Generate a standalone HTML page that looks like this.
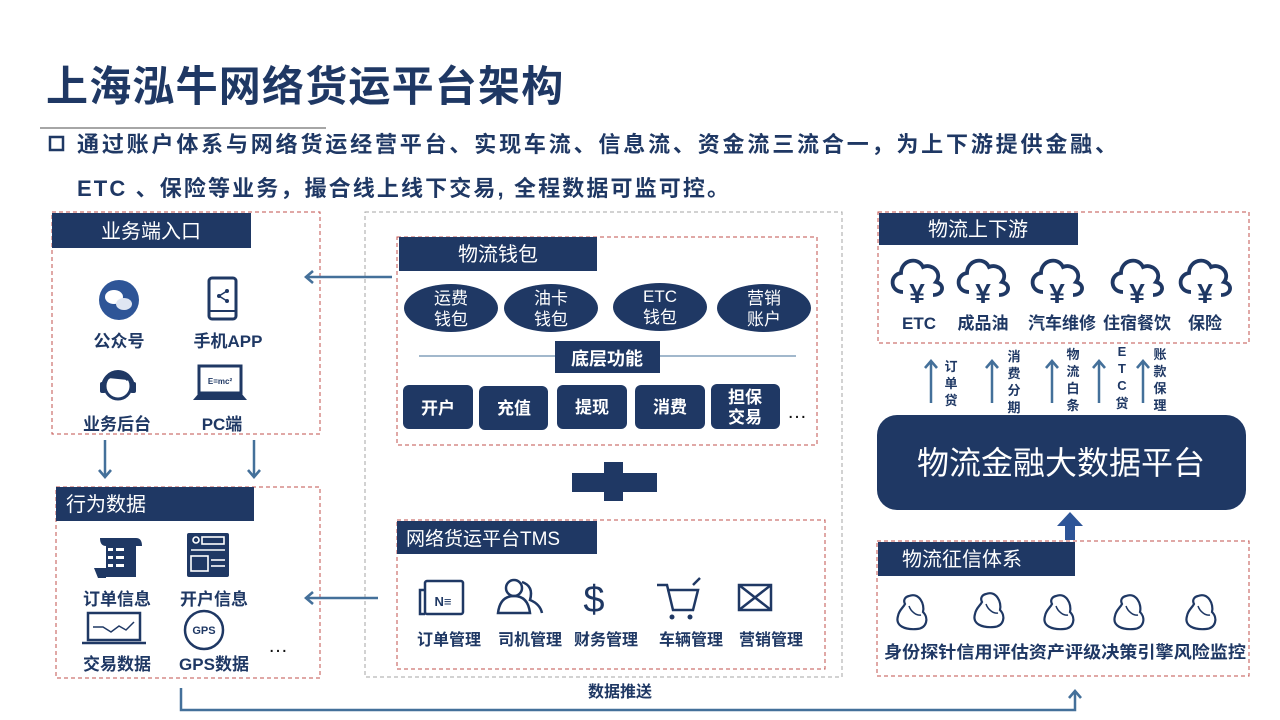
<!DOCTYPE html>
<html><head><meta charset="utf-8"><style>
html,body{margin:0;padding:0;background:#fff;}
svg{display:block;}
text{font-family:"Liberation Sans","Noto Sans CJK SC",sans-serif;}
</style></head><body>
<svg width="1280" height="720" viewBox="0 0 1280 720" xmlns="http://www.w3.org/2000/svg">
<defs>
<marker id="ah" markerWidth="14" markerHeight="14" refX="7" refY="7" orient="auto" markerUnits="userSpaceOnUse">
<path d="M1,1 L8,7 L1,13" fill="none" stroke="#44709a" stroke-width="2.6"/>
</marker>
<g id="cloud"><path d="M-14,10 C-27,10 -28,-7 -16,-9 C-16,-22 1,-26 6,-15 C15,-19 26,-9 19,0 C28,2 27,13 16,13" fill="none" stroke="#1f3864" stroke-width="3.8"/>
<text x="0" y="21" font-size="28" text-anchor="middle" fill="#1f3864" font-weight="bold">¥</text></g>
<g id="blob"><path d="M-4,-16 C6,-20 12,-8 10,0 C16,6 14,16 4,17 C-8,18 -18,14 -15,4 C-14,-2 -10,-4 -8,-8 C-10,-12 -8,-15 -4,-16 Z" fill="none" stroke="#1f3864" stroke-width="2.2"/>
<path d="M-4,-6 C-2,0 4,4 8,3" fill="none" stroke="#1f3864" stroke-width="1.5"/></g>
</defs>

<text x="46" y="101" font-size="42" font-weight="bold" fill="#1f3864" letter-spacing="1.2">上海泓牛网络货运平台架构</text>
<rect x="40" y="127" width="286" height="2" fill="#a6a6a6"/>
<rect x="50" y="137" width="13" height="13" fill="none" stroke="#1f3864" stroke-width="2.5"/>
<text x="77" y="152" font-size="22" font-weight="bold" fill="#1f3864" textLength="1040" lengthAdjust="spacing">通过账户体系与网络货运经营平台、实现车流、信息流、资金流三流合一，为上下游提供金融、</text>
<text x="77" y="196" font-size="22" font-weight="bold" fill="#1f3864" textLength="652" lengthAdjust="spacing">ETC 、保险等业务，撮合线上线下交易, 全程数据可监可控。</text>

<rect x="52" y="212" width="268" height="222" fill="none" stroke="#c0504d" stroke-width="1" stroke-dasharray="4,3"/>
<rect x="52" y="213" width="199" height="35" fill="#1f3864"/>
<text x="151" y="238" font-size="20" fill="#fff" text-anchor="middle">业务端入口</text>
<circle cx="119" cy="300" r="20" fill="#2e5597"/>
<ellipse cx="114" cy="297" rx="9" ry="7" fill="#fff"/>
<ellipse cx="124" cy="304" rx="8" ry="6" fill="#dfe6f2"/>
<text x="119" y="347" font-size="17" font-weight="bold" fill="#1f3864" text-anchor="middle">公众号</text>
<rect x="209" y="278" width="27" height="41" rx="3" fill="none" stroke="#1f3864" stroke-width="3"/>
<line x1="209" y1="311" x2="236" y2="311" stroke="#1f3864" stroke-width="2"/>
<circle cx="227" cy="291" r="2" fill="#1f3864"/><circle cx="219" cy="296" r="2" fill="#1f3864"/><circle cx="227" cy="301" r="2" fill="#1f3864"/>
<path d="M227,291 L219,296 L227,301" stroke="#1f3864" fill="none" stroke-width="1.5"/>
<text x="228" y="347" font-size="17" font-weight="bold" fill="#1f3864" text-anchor="middle">手机APP</text>
<circle cx="118" cy="386" r="13" fill="none" stroke="#1f3864" stroke-width="3"/>
<path d="M103,388 A15,16 0 0 1 133,388" fill="none" stroke="#1f3864" stroke-width="4"/>
<rect x="100" y="382" width="6" height="11" rx="2" fill="#1f3864"/><rect x="130" y="382" width="6" height="11" rx="2" fill="#1f3864"/>
<path d="M108,378 Q118,370 128,380" fill="#1f3864" stroke="#1f3864" stroke-width="3"/>
<text x="117" y="430" font-size="17" font-weight="bold" fill="#1f3864" text-anchor="middle">业务后台</text>
<rect x="199" y="366" width="42" height="27" fill="none" stroke="#1f3864" stroke-width="3"/>
<text x="220" y="384" font-size="8" font-weight="bold" fill="#1f3864" text-anchor="middle">E=mc²</text>
<path d="M193,400 L247,400 L241,393 L199,393 Z" fill="#1f3864"/>
<text x="222" y="430" font-size="17" font-weight="bold" fill="#1f3864" text-anchor="middle">PC端</text>

<line x1="105" y1="440" x2="105" y2="476" stroke="#44709a" stroke-width="2.5" marker-end="url(#ah)"/>
<line x1="254" y1="440" x2="254" y2="476" stroke="#44709a" stroke-width="2.5" marker-end="url(#ah)"/>

<rect x="56" y="487" width="264" height="191" fill="none" stroke="#c0504d" stroke-width="1" stroke-dasharray="4,3"/>
<rect x="56" y="487" width="198" height="34" fill="#1f3864"/>
<text x="66" y="511" font-size="20" fill="#fff">行为数据</text>
<path d="M100,538 L136,538 Q142,538 142,546 L136,546 L136,577 L106,577 L106,546 Q100,546 100,538 Z" fill="#1f3864"/>
<path d="M94,568 L106,568 L106,578 L98,578 Z" fill="#1f3864"/>
<g fill="#fff"><rect x="108" y="548" width="5" height="3"/><rect x="116" y="548" width="8" height="3"/><rect x="108" y="556" width="5" height="3"/><rect x="116" y="556" width="8" height="3"/><rect x="108" y="564" width="5" height="3"/><rect x="116" y="564" width="8" height="3"/></g>
<text x="117" y="605" font-size="17" font-weight="bold" fill="#1f3864" text-anchor="middle">订单信息</text>
<rect x="187" y="533" width="42" height="44" rx="2" fill="#1f3864"/>
<g fill="none" stroke="#fff" stroke-width="1.6"><circle cx="196" cy="540" r="3"/><rect x="202" y="537" width="22" height="7"/><line x1="191" y1="550" x2="225" y2="550"/><rect x="191" y="556" width="17" height="15"/><line x1="211" y1="560" x2="225" y2="560"/><line x1="211" y1="566" x2="225" y2="566"/></g>
<text x="214" y="605" font-size="17" font-weight="bold" fill="#1f3864" text-anchor="middle">开户信息</text>
<rect x="88" y="613" width="52" height="27" fill="none" stroke="#1f3864" stroke-width="2.5"/>
<line x1="82" y1="643" x2="146" y2="643" stroke="#1f3864" stroke-width="2.5"/>
<path d="M93,627 L103,627 L111,632 L119,626 L126,630 L134,622" fill="none" stroke="#1f3864" stroke-width="1.5"/>
<text x="117" y="670" font-size="17" font-weight="bold" fill="#1f3864" text-anchor="middle">交易数据</text>
<circle cx="204" cy="630" r="19" fill="none" stroke="#1f3864" stroke-width="2.5"/>
<text x="204" y="634" font-size="11" font-weight="bold" fill="#1f3864" text-anchor="middle">GPS</text>
<text x="214" y="670" font-size="17" font-weight="bold" fill="#1f3864" text-anchor="middle">GPS数据</text>
<text x="278" y="652" font-size="20" fill="#111" text-anchor="middle">…</text>

<rect x="365" y="212" width="477" height="465" fill="none" stroke="#a6a6a6" stroke-width="1" stroke-dasharray="4,3"/>
<rect x="397" y="237" width="420" height="208" fill="none" stroke="#c0504d" stroke-width="1" stroke-dasharray="4,3"/>
<rect x="399" y="237" width="198" height="34" fill="#1f3864"/>
<text x="498" y="261" font-size="20" fill="#fff" text-anchor="middle">物流钱包</text>
<g fill="#1f3864"><ellipse cx="451" cy="308" rx="47" ry="24"/><ellipse cx="551" cy="308" rx="47" ry="24"/><ellipse cx="660" cy="307" rx="47" ry="24"/><ellipse cx="764" cy="308" rx="47" ry="24"/></g>
<g font-size="17" fill="#fff" text-anchor="middle">
<text x="451" y="304">运费</text><text x="451" y="325">钱包</text>
<text x="551" y="304">油卡</text><text x="551" y="325">钱包</text>
<text x="660" y="302">ETC</text><text x="660" y="323">钱包</text>
<text x="764" y="304">营销</text><text x="764" y="325">账户</text></g>
<line x1="419" y1="356" x2="796" y2="356" stroke="#44709a" stroke-width="1"/>
<rect x="555" y="341" width="105" height="32" fill="#1f3864"/>
<text x="607" y="365" font-size="18" font-weight="bold" fill="#fff" text-anchor="middle">底层功能</text>
<g fill="#1f3864"><rect x="403" y="385" width="70" height="44" rx="6"/><rect x="479" y="386" width="69" height="44" rx="6"/><rect x="557" y="385" width="70" height="44" rx="6"/><rect x="635" y="385" width="70" height="44" rx="6"/><rect x="711" y="384" width="69" height="45" rx="6"/></g>
<g font-size="17" font-weight="bold" fill="#fff" text-anchor="middle">
<text x="438" y="414">开户</text><text x="514" y="414">充值</text><text x="592" y="413">提现</text><text x="670" y="413">消费</text><text x="745" y="403">担保</text><text x="745" y="423">交易</text></g>
<text x="797" y="418" font-size="20" fill="#111" text-anchor="middle">…</text>
<line x1="392" y1="277" x2="307" y2="277" stroke="#44709a" stroke-width="2.5" marker-end="url(#ah)"/>

<rect x="604" y="462" width="19" height="39" fill="#1f3864"/>
<rect x="572" y="473" width="85" height="19" fill="#1f3864"/>

<rect x="397" y="520" width="428" height="149" fill="none" stroke="#c0504d" stroke-width="1" stroke-dasharray="4,3"/>
<rect x="397" y="521" width="200" height="33" fill="#1f3864"/>
<text x="406" y="545" font-size="19" fill="#fff">网络货运平台TMS</text>
<g fill="none" stroke="#1f3864" stroke-width="2.5">
<rect x="425" y="581" width="38" height="33" rx="2"/><path d="M425,590 L420,590 L420,614 L425,614"/>
<path d="M498,613 Q500,596 514,596 Q528,596 530,613 Z"/><circle cx="514" cy="588" r="8"/><path d="M522,582 Q534,586 530,600 Q540,604 542,613"/>
<rect x="739" y="585" width="32" height="25"/><path d="M739,585 L771,610 M771,585 L739,610"/>
<path d="M657,585 L667,585 L673,610 L693,610 L698,590 L667,590"/><path d="M693,585 L700,578"/>
</g>
<text x="443" y="606" font-size="13" font-weight="bold" fill="#1f3864" text-anchor="middle">N≡</text>
<g fill="#1f3864"><circle cx="672" cy="617" r="2.5"/><circle cx="690" cy="617" r="2.5"/></g>
<text x="594" y="612" font-size="38" fill="#1f3864" text-anchor="middle">$</text>
<g font-size="16" font-weight="bold" fill="#1f3864" text-anchor="middle">
<text x="449" y="645">订单管理</text><text x="530" y="645">司机管理</text><text x="606" y="645">财务管理</text><text x="691" y="645">车辆管理</text><text x="771" y="645">营销管理</text></g>
<line x1="378" y1="598" x2="307" y2="598" stroke="#44709a" stroke-width="2.5" marker-end="url(#ah)"/>

<rect x="878" y="212" width="371" height="131" fill="none" stroke="#c0504d" stroke-width="1" stroke-dasharray="4,3"/>
<rect x="879" y="213" width="199" height="32" fill="#1f3864"/>
<text x="978" y="236" font-size="20" fill="#fff" text-anchor="middle">物流上下游</text>
<use href="#cloud" x="917" y="282"/><use href="#cloud" x="983" y="282"/><use href="#cloud" x="1057" y="282"/><use href="#cloud" x="1137" y="282"/><use href="#cloud" x="1205" y="282"/>
<g font-size="17" font-weight="bold" fill="#1f3864" text-anchor="middle">
<text x="919" y="329">ETC</text><text x="983" y="329">成品油</text><text x="1062" y="329">汽车维修</text><text x="1137" y="329">住宿餐饮</text><text x="1205" y="329">保险</text></g>
<g stroke="#44709a" stroke-width="2.5" marker-end="url(#ah)">
<line x1="931" y1="403" x2="931" y2="362"/><line x1="992" y1="403" x2="992" y2="362"/><line x1="1052" y1="403" x2="1052" y2="362"/><line x1="1099" y1="403" x2="1099" y2="362"/><line x1="1143" y1="403" x2="1143" y2="362"/></g>
<g font-size="13" font-weight="bold" fill="#1f3864" text-anchor="middle">
<text x="951" y="371">订</text><text x="951" y="388">单</text><text x="951" y="405">贷</text>
<text x="1014" y="361">消</text><text x="1014" y="378">费</text><text x="1014" y="395">分</text><text x="1014" y="412">期</text>
<text x="1073" y="359">物</text><text x="1073" y="376">流</text><text x="1073" y="393">白</text><text x="1073" y="410">条</text>
<text x="1122" y="356">E</text><text x="1122" y="373">T</text><text x="1122" y="390">C</text><text x="1122" y="408">贷</text>
<text x="1160" y="359">账</text><text x="1160" y="376">款</text><text x="1160" y="393">保</text><text x="1160" y="410">理</text></g>
<rect x="877" y="415" width="369" height="95" rx="20" fill="#1f3864"/>
<text x="1061" y="474" font-size="32" fill="#fff" text-anchor="middle">物流金融大数据平台</text>
<path d="M1065,540 L1065,526 L1057,526 L1070,512 L1083,526 L1075,526 L1075,540 Z" fill="#2e5597"/>
<rect x="877" y="541" width="372" height="135" fill="none" stroke="#c0504d" stroke-width="1" stroke-dasharray="4,3"/>
<rect x="878" y="542" width="197" height="34" fill="#1f3864"/>
<text x="962" y="566" font-size="20" fill="#fff" text-anchor="middle">物流征信体系</text>
<use href="#blob" x="913" y="612"/><use href="#blob" x="990" y="610"/><use href="#blob" x="1060" y="612"/><use href="#blob" x="1130" y="612"/><use href="#blob" x="1202" y="612"/>
<text x="884" y="658" font-size="17" font-weight="bold" fill="#1f3864" textLength="362" lengthAdjust="spacingAndGlyphs">身份探针信用评估资产评级决策引擎风险监控</text>

<path d="M181,688 L181,710 L1075,710 L1075,692" fill="none" stroke="#44709a" stroke-width="2.5" marker-end="url(#ah)"/>
<text x="620" y="697" font-size="16" font-weight="bold" fill="#1f3864" text-anchor="middle">数据推送</text>
</svg>
</body></html>
